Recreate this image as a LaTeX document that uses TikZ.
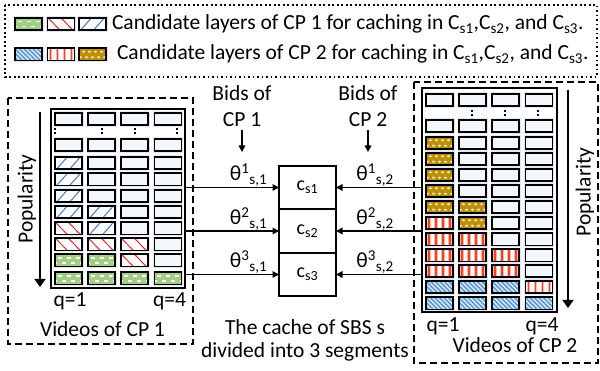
\documentclass[tikz,border=0pt]{standalone}
\usepackage{fontspec}
\setmainfont{Carlito}
\usetikzlibrary{arrows.meta}
\definecolor{cpgreen}{HTML}{A2CD85}
\definecolor{cpred}{HTML}{E8282A}
\definecolor{cpblue}{HTML}{4A78C8}
\definecolor{cpgold}{HTML}{BD8F0A}
\definecolor{cpgoldlight}{HTML}{FFF1C4}
\definecolor{cpstripe}{HTML}{FF3D1F}
\definecolor{cphatch}{HTML}{5B9BD5}
\definecolor{cphatchbg}{HTML}{E2EDF8}
\definecolor{cellfill}{HTML}{F3F6FB}
\definecolor{cellglow}{HTML}{E2E9F4}

\newcommand\vcell[3]{%
 \begin{scope}[shift={(#1,#2)}]
 \fill[cellglow] (-15,-7.6) rectangle (15,7.6);
 \begin{scope}
 \clip (-13.5,-6.2) rectangle (13.5,6.2);
 \ifcase#3\relax
  \fill[cellfill] (-13.5,-6.2) rectangle (13.5,6.2);
 \or
  \fill[cpgreen] (-13.5,-6.2) rectangle (13.5,6.2);
  \foreach \xx in {-9,0,9}{\draw[white,line width=1.3pt] (\xx-2,-2.4) -- (\xx+2,-2.4);}
  \foreach \xx in {-13.5,-4.5,4.5,13.5}{\draw[white,line width=1.3pt] (\xx-2,2.4) -- (\xx+2,2.4);}
 \or
  \fill[white] (-13.5,-6.2) rectangle (13.5,6.2);
  \draw[cpred,line width=1pt] (-13,-6.2) -- (-1,6.2) (0,-6.2) -- (12,6.2);
 \or
  \fill[white] (-13.5,-6.2) rectangle (13.5,6.2);
  \draw[cpblue,line width=1pt] (-12,6.2) -- (-1,-6.2) (1,6.2) -- (12,-6.2);
 \or
  \fill[cpgold] (-13.5,-6.2) rectangle (13.5,6.2);
  \foreach \xx in {-9,-3,3,9}{\fill[cpgoldlight] (\xx,-2.7) ellipse (1.7 and 1.1);}
  \foreach \xx in {-12,-6,0,6,12}{\fill[cpgoldlight] (\xx,2.7) ellipse (1.7 and 1.1);}
 \or
  \fill[white] (-13.5,-6.2) rectangle (13.5,6.2);
  \foreach \xx in {-10.5,-3.5,3.5,10.5}{\fill[cpstripe!35] (\xx-1.8,-6.2) rectangle (\xx+1.8,6.2);
    \fill[cpstripe] (\xx-0.9,-6.2) rectangle (\xx+0.9,6.2);}
 \or
  \fill[cphatchbg] (-13.5,-6.2) rectangle (13.5,6.2);
  \foreach \k in {-32,-27.5,...,28}{\draw[cphatch,line width=1.6pt] (\k,-6.2) -- (\k+12.4,6.2);}
 \fi
 \end{scope}
 \draw[line width=1.6pt] (-13.5,-6.2) rectangle (13.5,6.2);
 \end{scope}}

\begin{document}
\begin{tikzpicture}[x=1pt,y=-1pt,
 every node/.style={inner sep=0pt, outer sep=0pt},
 txt/.style={font=\fontsize{21.5}{26}\selectfont},
 segtxt/.style={font=\fontsize{20}{24}\selectfont},
 seg/.style={draw, line width=1.8pt, minimum width=57pt, minimum height=43.5pt, fill=white, segtxt},
 gridbox/.style={draw, line width=1.8pt, fill=white},
 arr/.style={line width=1.5pt, -{Triangle[length=6.5pt,width=6.5pt]}},
 bigarr/.style={line width=1.5pt, -{Triangle[length=8pt,width=11pt]}},
 dashbox/.style={line width=1.4pt, dash pattern=on 7pt off 4pt},
 dotbox/.style={line width=1.8pt, dash pattern=on 1.8pt off 2.7pt},
 vdots/.style={line width=1.6pt, dash pattern=on 1.8pt off 2.6pt}]
\useasboundingbox (0,0) rectangle (600,371);

% legend
\draw[dotbox] (5,5) rectangle (597,77);
\vcell{28.5}{24}{1}\vcell{61}{24}{2}\vcell{92.5}{24}{3}
\vcell{28.5}{54.5}{6}\vcell{61}{54.5}{5}\vcell{92.5}{54.5}{4}
\node[txt,anchor=base west] (leg1) at (112,30) {Candidate layers of CP 1 for caching in C\textsubscript{s1},C\textsubscript{s2}, and C\textsubscript{s3}.};
\node[txt,anchor=base west] (leg2) at (117,60) {Candidate layers of CP 2 for caching in C\textsubscript{s1},C\textsubscript{s2}, and C\textsubscript{s3}.};

% dashed containers
\draw[dashbox] (8,98) rectangle (193,344);
\draw[dashbox] (414,82) rectangle (598,363);

% grids
\node[gridbox, minimum width=134pt, minimum height=179pt] (gridL) at (118,198.5) {};
\node[gridbox, minimum width=135pt, minimum height=224pt] (gridR) at (489.5,200) {};

\foreach \y/\a/\b/\c/\d in {119/0/0/0/0,145/0/0/0/0,163/3/0/0/0,179.5/3/0/0/0,196/3/0/0/0,
  212/3/3/0/0,228.5/2/3/0/0,244.5/2/2/2/0,260.5/1/1/2/0,278.5/1/1/1/1}{
  \vcell{68.5}{\y}{\a}\vcell{101.5}{\y}{\b}\vcell{134.5}{\y}{\c}\vcell{168}{\y}{\d}}
\foreach \y/\a/\b/\c/\d in {100/0/0/0/0,126/0/0/0/0,143/4/0/0/0,159/4/0/0/0,175/4/0/0/0,
  191/4/0/0/0,207/4/4/0/0,223/5/4/0/0,239.5/5/5/0/0,255.5/5/5/5/0,271/5/5/5/0,287/6/6/6/5,303.5/6/6/6/6}{
  \vcell{439.5}{\y}{\a}\vcell{472.5}{\y}{\b}\vcell{505.5}{\y}{\c}\vcell{539}{\y}{\d}}

\foreach \x in {55,102,135,177}{\draw[vdots] (\x,128) -- (\x,136);}
\foreach \x in {472,505,538}{\draw[vdots] (\x,110) -- (\x,118);}

% popularity arrows
\coordinate (pLtop) at (40,112); \coordinate (pLbot) at (40,287);
\coordinate (pRtop) at (568,90); \coordinate (pRbot) at (568,308);
\draw[bigarr] (pLtop) -- (pLbot);
\draw[bigarr] (pRtop) -- (pRbot);
\node[txt,rotate=90] (popL) at (27,199) {Popularity};
\node[txt,rotate=90] (popR) at (585,192) {Popularity};

% labels under grids
\node[txt,anchor=base] (q1L) at (70,307) {q=1};
\node[txt,anchor=base] (q4L) at (169.5,307) {q=4};
\node[txt,anchor=base] (vidL) at (102.5,337) {Videos of CP 1};
\node[txt,anchor=base] (q1R) at (443,332) {q=1};
\node[txt,anchor=base] (q4R) at (542,332) {q=4};
\node[txt,anchor=base] (vidR) at (515,353) {Videos of CP 2};

% cache segments
\node[seg] (s1) at (307.5,187.5) {c\textsubscript{s1}};
\node[seg] (s2) at (307.5,231) {c\textsubscript{s2}};
\node[seg] (s3) at (307.5,274.5) {c\textsubscript{s3}};

\foreach \s in {s1,s2,s3}{
  \draw[arr] (gridL.east |- \s.west) -- (\s.west);
  \draw[arr] (gridR.west |- \s.east) -- (\s.east);}

% bids
\node[txt,anchor=base] (bid1a) at (242,101) {Bids of};
\node[txt,anchor=base] (bid1b) at (242,127) {CP 1};
\node[txt,anchor=base] (bid2a) at (368,101) {Bids of};
\node[txt,anchor=base] (bid2b) at (368,127) {CP 2};
\coordinate (b1end) at (242,152); \coordinate (b2end) at (368,152);
\draw[arr] ([yshift=-3pt]bid1b.south) -- (b1end);
\draw[arr] ([yshift=-3pt]bid2b.south) -- (b2end);

% thetas
\node[txt,anchor=base] (t11) at (248.5,181) {θ\textsuperscript{1}\textsubscript{s,1}};
\node[txt,anchor=base] (t21) at (248.5,225) {θ\textsuperscript{2}\textsubscript{s,1}};
\node[txt,anchor=base] (t31) at (248.5,268) {θ\textsuperscript{3}\textsubscript{s,1}};
\node[txt,anchor=base] (t12) at (375,181) {θ\textsuperscript{1}\textsubscript{s,2}};
\node[txt,anchor=base] (t22) at (375,225) {θ\textsuperscript{2}\textsubscript{s,2}};
\node[txt,anchor=base] (t32) at (375,268) {θ\textsuperscript{3}\textsubscript{s,2}};

% caption
\node[txt,anchor=base] (cap1) at (305,335) {The cache of SBS s};
\node[txt,anchor=base] (cap2) at (305,358) {divided into 3 segments};
\end{tikzpicture}
\end{document}
